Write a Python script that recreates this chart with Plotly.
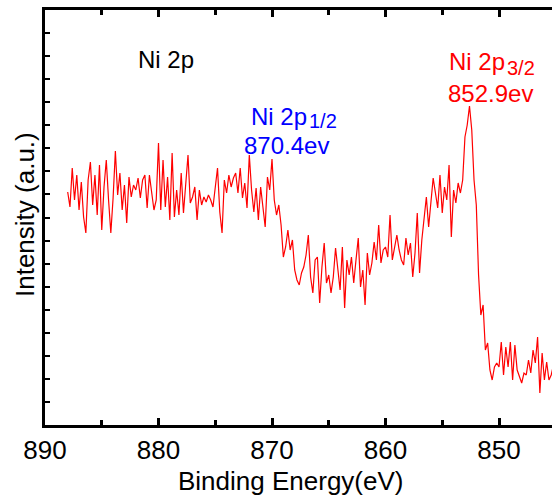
import plotly.graph_objects as go

# Binding energy grid: 888.0 eV down to 845.2 eV in 0.2 eV steps
e_start = 888.0
e_step = 0.2

# Intensity (a.u.), one value per energy step
intensity = [
    233, 218, 257, 225, 250, 215, 243, 208, 192, 245,
    263, 220, 250, 210, 260, 195, 238, 265, 225, 192,
    227, 274, 230, 252, 215, 240, 202, 248, 228, 240,
    235, 247, 227, 245, 250, 217, 250, 232, 215, 225,
    282, 215, 265, 218, 248, 205, 272, 208, 235, 210,
    252, 212, 242, 270, 222, 228, 238, 205, 235, 220,
    228, 223, 230, 225, 218, 238, 257, 213, 192, 245,
    232, 250, 238, 247, 252, 232, 257, 227, 242, 217,
    270, 235, 213, 237, 205, 238, 218, 198, 248, 235,
    266, 225, 210, 220, 200, 168, 178, 195, 175, 185,
    155, 145, 140, 152, 158, 170, 190, 148, 132, 165,
    168, 122, 158, 182, 142, 150, 132, 148, 177, 155,
    135, 178, 117, 165, 150, 168, 142, 165, 187, 138,
    155, 120, 172, 150, 162, 183, 165, 200, 162, 175,
    178, 168, 210, 165, 180, 190, 175, 165, 160, 187,
    170, 182, 148, 172, 212, 152, 185, 205, 228, 198,
    225, 247, 232, 217, 250, 212, 238, 225, 260, 188,
    235, 222, 242, 232, 245, 288, 300, 319, 295, 245,
    220, 150, 110, 120, 75, 82, 55, 45, 58, 62,
    58, 83, 50, 78, 58, 83, 45, 80, 55, 48,
    42, 52, 50, 65, 52, 75, 62, 88, 32, 72,
    45, 63, 45, 50, 60,
]
energy = [round(e_start - e_step * i, 2) for i in range(len(intensity))]

x_ticks = [890, 880, 870, 860, 850]
x_range = [890, 845.33]
y_range = [0, 415]

FONT = "Liberation Sans, Arial, sans-serif"

# plot-area geometry in pixels
W, H = 552, 499
L, R, T, B = 45, 0, 10, 74
PW, PH = W - L - R, H - T - B

fig = go.Figure()
fig.add_trace(go.Scatter(
    x=energy, y=intensity, mode="lines",
    line=dict(color="#ff0000", width=1.2),
    showlegend=False, hoverinfo="skip",
))

fig.update_layout(
    template="none",
    width=W, height=H,
    margin=dict(l=L, r=R, t=T, b=B, pad=0),
    paper_bgcolor="white", plot_bgcolor="white",
    font=dict(family=FONT, color="black"),
    showlegend=False,
)

fig.update_xaxes(
    range=x_range, autorange=False, automargin=False,
    tickvals=x_ticks, ticktext=[str(v) for v in x_ticks],
    ticks="inside", ticklen=7, tickwidth=3, tickcolor="black",
    minor=dict(dtick=5, tick0=850, ticks="inside", ticklen=5, tickwidth=2.5, tickcolor="black"),
    showline=True, linewidth=3, linecolor="black", mirror="ticks",
    showgrid=False, zeroline=False,
    tickfont=dict(size=26, family=FONT, color="black"),
)
fig.update_yaxes(
    range=y_range, autorange=False, automargin=False,
    tick0=0, dtick=415 / 18,
    ticks="inside", ticklen=5, tickwidth=2, tickcolor="black",
    showticklabels=False,
    showline=True, linewidth=3, linecolor="black", mirror=False,
    showgrid=False, zeroline=False,
)

def ann(text, x, y, color, size, xref="x", yref="y", angle=0, xanchor="left", yanchor="middle"):
    fig.add_annotation(
        text=text, x=x, y=y, xref=xref, yref=yref, showarrow=False,
        xanchor=xanchor, yanchor=yanchor, textangle=angle, borderpad=0,
        font=dict(family=FONT, size=size, color=color),
    )

def px_x(px):
    return (px - L) / PW

def px_y(py):
    return (H - B - py) / PH

# axis titles
ann("Binding Energy(eV)", px_x(290), px_y(481), "black", 26, xref="paper", yref="paper",
    xanchor="center")
ann("Intensity (a.u.)", px_x(25), px_y(215), "black", 26, xref="paper", yref="paper",
    angle=-90, xanchor="center")

# peak labels (subscripts drawn as separate, slightly smaller, lowered texts)
ann("Ni 2p", 881.9, 366, "black", 24)
ann("Ni 2p", 854.5, 364, "#ff0000", 24)
ann("3/2", 849.38, 356.7, "#ff0000", 20)
ann("852.9ev", 854.58, 332, "#ff0000", 24)
ann("Ni 2p", 871.94, 308.6, "#0000ff", 24)
ann("1/2", 866.83, 304.2, "#0000ff", 20)
ann("870.4ev", 872.56, 279.1, "#0000ff", 24)

fig.write_html("out.html")
